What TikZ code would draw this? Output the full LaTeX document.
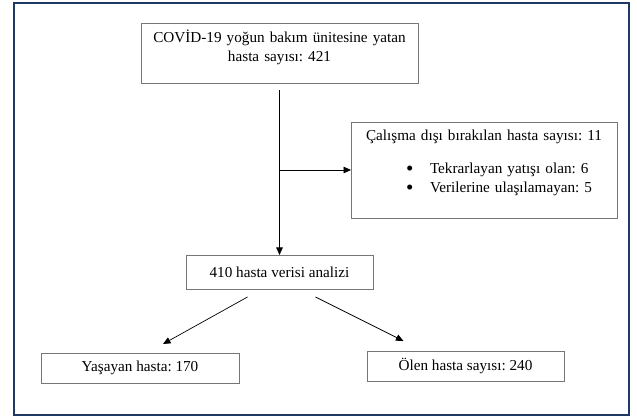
\documentclass[tikz,border=0pt]{standalone}
\usepackage{fontspec}
\setmainfont{Liberation Serif}
\usepackage{xcolor}
\usepackage{tikz}
\usetikzlibrary{positioning,calc,arrows.meta}
\frenchspacing
\definecolor{frame}{HTML}{1F3864}
\definecolor{edge}{HTML}{767676}
\definecolor{ink}{HTML}{000000}
\newcommand{\itemdot}{\hspace*{55pt}\makebox[24pt][l]{\raisebox{-1.8pt}{\fontsize{21}{19}\selectfont\textbullet}}}
\tikzset{
  box/.style   = {draw=edge, fill=white, line width=0.9pt, inner sep=0pt, outer sep=0pt,
                  font=\fontsize{15.2}{19}\selectfont\color{ink}},
  flow/.style  = {-{Triangle[length=7.5pt,width=6.5pt]}, draw=ink, line width=0.7pt},
}

\begin{document}
\begin{tikzpicture}[x=1pt,y=1pt]
\path[use as bounding box] (0,0) rectangle (637,420);
\draw[frame, line width=2.5pt] (14,417) rectangle (629,5);

% ---- admitted ---------------------------------------------------------------
\node[box, text width=277pt, align=center, text height=20pt, text depth=40pt] (icu) at (279.5,367)
  {COVİD-19 yoğun bakım ünitesine yatan\\ hasta sayısı: 421};

% ---- excluded ---------------------------------------------------------------
\node[box, text width=266pt, align=left, text height=19pt, text depth=77pt] (excl) at (484,250)
  {\makebox[266pt][c]{Çalışma dışı bırakılan hasta sayısı: 11}\\[14pt]
   \itemdot Tekrarlayan yatışı olan: 6\\
   \itemdot Verilerine ulaşılamayan: 5};

% ---- analysed ---------------------------------------------------------------
\node[box, minimum width=187pt, minimum height=34pt] (data) at (279.5,148) {410 hasta verisi analizi};

% ---- outcome ----------------------------------------------------------------
\node[box, minimum width=198pt, minimum height=30pt] (alive) at (140,52) {Yaşayan hasta: 170};
\node[box, minimum width=197pt, minimum height=30pt] (dead) at (465.5,54) {Ölen hasta sayısı: 240};

% ---- arrows -----------------------------------------------------------------
\coordinate (split) at (icu.south |- excl.west);
\draw[flow, shorten <=7pt] (icu.south) -- (data.north);
\draw[flow] (split) -- (excl.west);
\draw[flow] ([xshift=-32pt,yshift=-8pt]data.south) -- ([xshift=23pt,yshift=9pt]alive.north);
\draw[flow] ([xshift=36pt,yshift=-8pt]data.south) -- ([xshift=-62pt,yshift=10pt]dead.north);

\end{tikzpicture}
\end{document}
